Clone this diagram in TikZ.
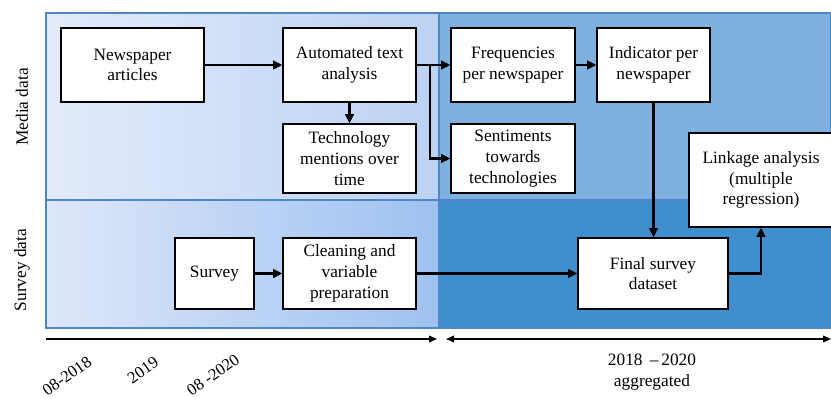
\documentclass[tikz,border=0pt]{standalone}
\usepackage{fontspec}
\setmainfont{Liberation Serif}
\usetikzlibrary{arrows.meta}
\definecolor{mediaL}{HTML}{E3EBFB}
\definecolor{mediaR}{HTML}{BBD2F3}
\definecolor{survL}{HTML}{DEE7F9}
\definecolor{survR}{HTML}{9DC1F0}
\definecolor{mediaAgg}{HTML}{7EB0E0}
\definecolor{survAgg}{HTML}{3F8FCF}
\definecolor{frameblue}{HTML}{4F86C4}
\tikzset{
  stepbox/.style={draw=black, line width=0.9pt, fill=white, align=center,
    inner sep=2pt, font=\rmfamily\fontsize{13}{15.6}\selectfont},
  flow/.style={line width=2pt, -{Triangle[length=7pt,width=6.5pt]}},
  axis/.style={line width=1.1pt},
  lbl/.style={font=\rmfamily\fontsize{13}{15.6}\selectfont},
  datelbl/.style={font=\rmfamily\fontsize{12.5}{15}\selectfont, rotate=35, inner sep=0pt},
}
\begin{document}
\begin{tikzpicture}[x=0.75pt,y=-0.75pt]
\useasboundingbox (0,0) rectangle (831,399);

% background bands
\shade[left color=mediaL, right color=mediaR] (46,13) rectangle (439,200);
\shade[left color=survL, right color=survR] (46,200) rectangle (439,328);
\fill[mediaAgg] (439,13) rectangle (831,200);
\fill[survAgg] (439,200) rectangle (831,328);
\draw[frameblue, line width=0.8pt] (46,13) rectangle (831,328);
\draw[frameblue, line width=0.8pt] (46,200) -- (831,200);
\draw[frameblue, line width=0.8pt] (439,13) -- (439,328);

% row labels
\node[lbl, rotate=90] (rowmedia) at (22,107) {Media data};
\node[lbl, rotate=90] (rowsurvey) at (22,270) {Survey data};

% process steps
\node[stepbox, minimum width=143*0.75pt, minimum height=74*0.75pt] (news) at (132.5,65) {Newspaper\\articles};
\node[stepbox, minimum width=133*0.75pt, minimum height=74*0.75pt] (ata) at (349.5,65) {Automated text\\analysis};
\node[stepbox, minimum width=133*0.75pt, minimum height=69*0.75pt] (tech) at (349.5,158.5) {Technology\\mentions over\\time};
\node[stepbox, minimum width=124*0.75pt, minimum height=74*0.75pt] (freq) at (513,65) {Frequencies\\per newspaper};
\node[stepbox, minimum width=113*0.75pt, minimum height=74*0.75pt] (ind) at (653.5,65) {Indicator per\\newspaper};
\node[stepbox, minimum width=124*0.75pt, minimum height=69*0.75pt] (sent) at (513,158.5) {Sentiments\\towards\\technologies};
\node[stepbox, minimum width=144*0.75pt, minimum height=94*0.75pt] (link) at (761,180) {Linkage analysis\\(multiple\\regression)};
\node[stepbox, minimum width=79*0.75pt, minimum height=71*0.75pt] (surv) at (214.5,273.5) {Survey};
\node[stepbox, minimum width=133*0.75pt, minimum height=71*0.75pt] (clean) at (349.5,273.5) {Cleaning and\\variable\\preparation};
\node[stepbox, minimum width=150*0.75pt, minimum height=71*0.75pt] (final) at (653,273.5) {Final survey\\dataset};

% flows
\coordinate (branch) at (430,65);
\draw[flow] (news) -- (ata);
\draw[flow] (ata) -- (tech);
\draw[flow] (ata.east) -- (freq.west);
\draw[flow] (branch) |- (sent.west);
\draw[flow] (freq) -- (ind);
\draw[flow] (ind.south) -- (ind.south |- final.north);
\draw[flow] (surv) -- (clean);
\draw[flow] (clean) -- (final);
\draw[flow] (final.east) -| (link.south);

% time axis
\coordinate (tA) at (46,339);
\coordinate (tB) at (437,339);
\coordinate (tC) at (446,339);
\coordinate (tD) at (831,339);
\draw[axis, -{Triangle[length=6pt,width=5pt]}] (tA) -- (tB);
\draw[axis, {Triangle[length=6pt,width=5pt]}-{Triangle[length=6pt,width=5pt]}] (tC) -- (tD);

\node[datelbl] (d1) at (67,376) {08-2018};
\node[datelbl] (d2) at (143,370) {2019};
\node[datelbl] (d3) at (213,375) {08 -2020};
\node[lbl, align=center] (agg) at (652,372) {2018 \,–\,2020\\aggregated};
\end{tikzpicture}
\end{document}
